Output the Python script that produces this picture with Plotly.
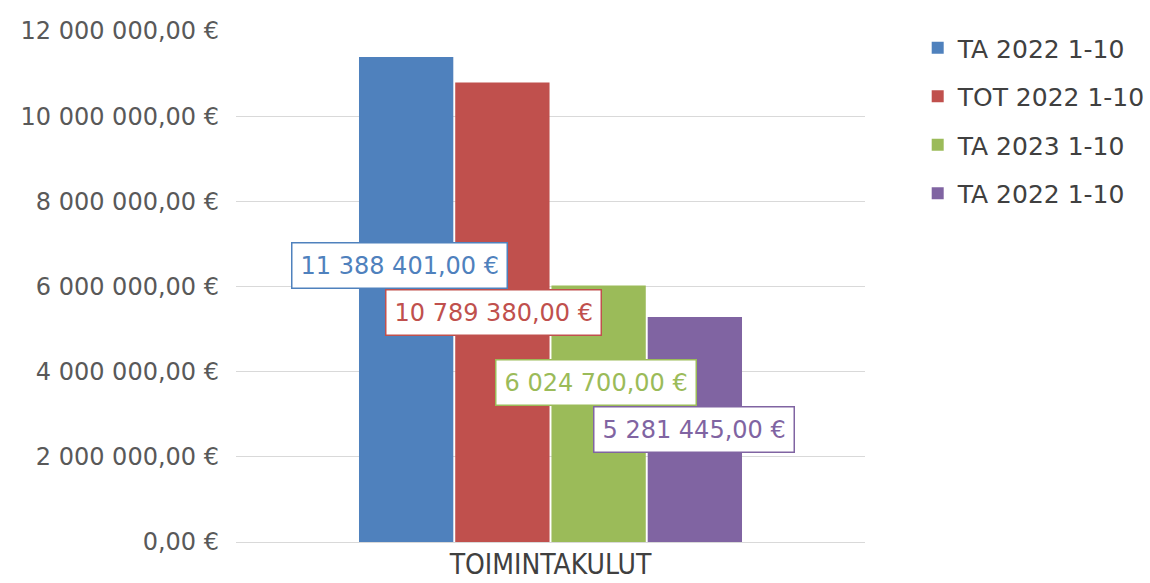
import plotly.graph_objects as go

categories = ["TOIMINTAKULUT"]
series_names = ["TA 2022 1-10", "TOT 2022 1-10", "TA 2023 1-10", "TA 2022 1-10"]
series_values = [11388401.00, 10789380.00, 6024700.00, 5281445.00]
series_colors = ["#4F81BD", "#C0504D", "#9BBB59", "#8064A2"]
tick_values = [0, 2000000, 4000000, 6000000, 8000000, 10000000, 12000000]

# label placement (style): pixel shifts relative to group center / half value
label_xshift = [-151, -57, 45, 143]
label_yshift = [34, 0, 31, 0]

FONT = "DejaVu Sans"

def fmt_eur(v):
    s = f"{v:,.2f}".replace(",", " ").replace(".", ",")
    return s + " €"

tick_text = [fmt_eur(v) for v in tick_values]

fig = go.Figure()
for i, (name, val, col) in enumerate(zip(series_names, series_values, series_colors)):
    fig.add_trace(go.Bar(
        x=categories, y=[val], name=name,
        marker=dict(color=col, line=dict(width=0)),
        legendgroup=f"g{i}",
        hoverinfo="skip",
    ))

for i, (val, col) in enumerate(zip(series_values, series_colors)):
    fig.add_annotation(
        x=categories[0], y=val / 2, xref="x", yref="y",
        text=fmt_eur(val), showarrow=False,
        xshift=label_xshift[i], yshift=label_yshift[i],
        font=dict(family=FONT, size=24, color=col),
        bgcolor="white", bordercolor=col, borderwidth=1.5, borderpad=8,
    )

fig.update_layout(
    width=1150, height=583,
    margin=dict(l=236, r=285, t=31, b=41),
    paper_bgcolor="white", plot_bgcolor="white",
    barmode="group", bargap=0.388, bargroupgap=0.02,
    font=dict(family=FONT, size=24, color="#595959"),
    showlegend=True,
    legend=dict(
        xref="container", yref="container",
        x=0.798, y=0.957, xanchor="left", yanchor="top",
        font=dict(family=FONT, size=25, color="#404040"),
        tracegroupgap=13, bgcolor="rgba(0,0,0,0)",
    ),
    xaxis=dict(
        showgrid=False, showline=False, ticks="",
        tickfont=dict(family="DejaVu Sans Condensed, DejaVu Sans", size=28, color="#404040"),
        ticklabelstandoff=3, automargin=False,
    ),
    yaxis=dict(
        range=[0, 12000000], tickvals=tick_values, ticktext=tick_text,
        showgrid=True, gridcolor="#D9D9D9", gridwidth=1,
        zeroline=True, zerolinecolor="#D9D9D9", zerolinewidth=1,
        showline=False, ticks="", ticklabelstandoff=16,
        tickfont=dict(family=FONT, size=24, color="#595959"),
        automargin=False,
    ),
)

fig.write_html("out.html", config={"displayModeBar": False},
               post_script="document.body.style.margin='0';")
